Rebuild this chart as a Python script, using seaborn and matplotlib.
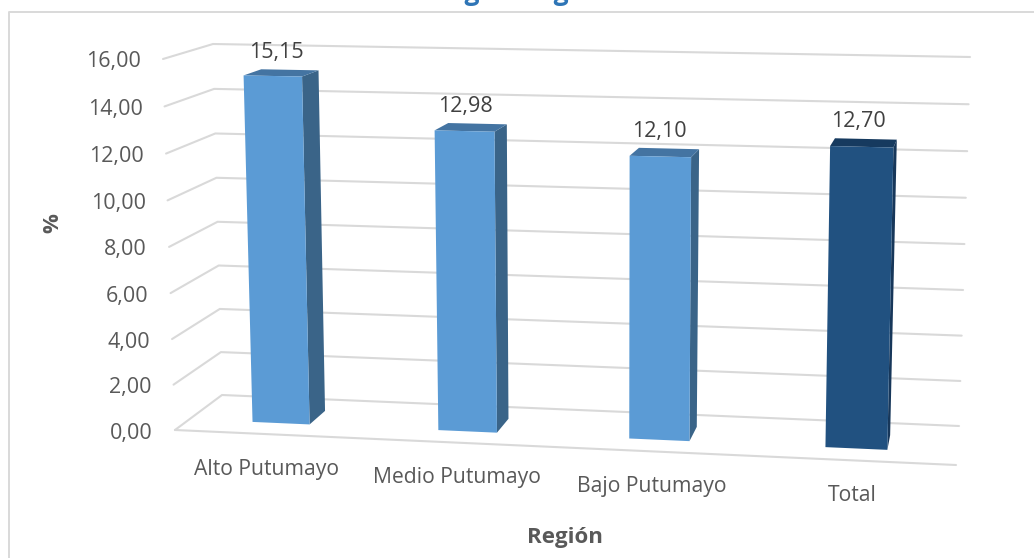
#!/usr/bin/env python

import numpy as np
import pandas as pd
import matplotlib
matplotlib.use('Agg')
import matplotlib.pyplot as plt
from matplotlib.patches import Polygon
from matplotlib.transforms import Transform
import seaborn as sns

regions = ["Alto Putumayo", "Medio Putumayo", "Bajo Putumayo", "Total"]
values = [15.15, 12.98, 12.10, 12.70]
yticks = [0, 2, 4, 6, 8, 10, 12, 14, 16]
front_colors = ["#5B9BD5", "#5B9BD5", "#5B9BD5", "#215180"]
side_colors = ["#3A6488", "#3A6488", "#3A6488", "#17375A"]
top_colors = ["#4474A2", "#4474A2", "#4474A2", "#163A5F"]

W, H = 1034, 558
GRID = "#D9D9D9"

# corners of the 3d box in image pixels (left/right, value 0/16)
front = {'lb': (175, 430), 'lt': (163, 59), 'rb': (956, 465), 'rt': (965, 73)}
back = {'lb': (222, 395), 'lt': (213, 44), 'rb': (959, 426), 'rt': (970, 57)}
UMIN, UMAX, VMAX = -0.5, 3.5, 16.0
D0, D1 = 0.31, 0.69


def homography(d):
    src = [(0, 0), (0, 1), (1, 0), (1, 1)]
    keys = ['lb', 'lt', 'rb', 'rt']
    A, b = [], []
    for (s, t), k in zip(src, keys):
        x = front[k][0] + d * (back[k][0] - front[k][0])
        y = front[k][1] + d * (back[k][1] - front[k][1])
        A.append([s, t, 1, 0, 0, 0, -s * x, -t * x])
        A.append([0, 0, 0, s, t, 1, -s * y, -t * y])
        b += [x, y]
    p = np.linalg.solve(np.array(A, float), np.array(b, float))
    return np.append(p, 1).reshape(3, 3)


def project(u, v, d):
    # data position + depth -> display pixels (y up)
    m = homography(d)
    s = (np.asarray(u, float) - UMIN) / (UMAX - UMIN)
    t = np.asarray(v, float) / VMAX
    w = m[2, 0] * s + m[2, 1] * t + 1
    x = (m[0, 0] * s + m[0, 1] * t + m[0, 2]) / w
    y = (m[1, 0] * s + m[1, 1] * t + m[1, 2]) / w
    return x, H - y


class Plane(Transform):
    input_dims = 2
    output_dims = 2

    def __init__(self, d):
        super().__init__()
        self.d = d

    def transform_non_affine(self, values):
        x, y = project(values[:, 0], values[:, 1], self.d)
        return np.column_stack([x, y])

    def transform(self, values):
        return self.transform_non_affine(np.asarray(values, float))

    def transform_path_non_affine(self, path):
        return path.__class__(self.transform_non_affine(path.vertices), path.codes)

    def inverted(self):
        raise NotImplementedError


sns.set_theme(style="white")
plt.rcParams['font.family'] = ['Open Sans', 'DejaVu Sans']

df = pd.DataFrame({"region": regions, "value": values})

fig = plt.figure(figsize=(W / 100, H / 100), dpi=100)
ax = fig.add_axes([0, 0, 1, 1])
sns.barplot(data=df, x="region", y="value", hue="region", palette=front_colors,
            width=0.31, legend=False, saturation=1, linewidth=0, ax=ax)
ax.set_xlim(0, W)
ax.set_ylim(0, H)
ax.axis('off')
fig.patch.set_facecolor('white')

# chart frame, the right and bottom side are cut off in the source
fig.add_artist(plt.Line2D([8.5 / W, 8.5 / W, 1], [0, 1 - 12 / H, 1 - 12 / H], color=GRID, lw=1.4))

# title is cut off by the top of the picture
fig.text(523 / W, 1 - 0.3 / H, "según Región", color="#2E75B6", fontsize=19, fontweight='bold',
         ha='center', va='baseline')

# grid on the side wall and the back wall
for v in yticks:
    x0, y0 = project(UMIN, v, 0)
    x1, y1 = project(UMIN, v, 1)
    x2, y2 = project(UMAX, v, 1)
    ax.plot([x0, x1, x2], [y0, y1, y2], transform=None, color=GRID, lw=1.5, zorder=1)
    ax.text(x0 - 22, y0 - 3, f"{v:.2f}".replace('.', ','), transform=None, ha='right', va='center',
            fontsize=15.5, color="#595959")
fx, fy = project([UMIN, UMAX], [0, 0], 0)
ax.plot(fx, fy, transform=None, color=GRID, lw=1.5, zorder=1)

# 3d look of the bars
for i, bar in enumerate(ax.patches):
    u0, u1 = bar.get_x(), bar.get_x() + bar.get_width()
    v = bar.get_height()
    bar.set_transform(Plane(D0))
    bar.set_zorder(4)
    side = [project(u1, 0, D0), project(u1, 0, D1), project(u1, v, D1), project(u1, v, D0)]
    top = [project(u0, v, D0), project(u0, v, D1), project(u1, v, D1), project(u1, v, D0)]
    ax.add_patch(Polygon(np.array(side), transform=None, fc=side_colors[i], ec='none', zorder=3))
    ax.add_patch(Polygon(np.array(top), transform=None, fc=top_colors[i], ec='none', zorder=3))

    # labels sit a bit closer together than the bars
    tx, _ = project((u0 + u1) / 2, v, D0)
    _, ty = project((u0 + u1) / 2, v, D1)
    ax.text(tx * 0.988 + 7, ty + 17, f"{v:.2f}".replace('.', ','), transform=None, ha='center', va='center',
            fontsize=15.5, color="#404040")

    lx, ly = project((u0 + u1) / 2, 0, 0)
    ax.text(lx - 1, ly - 35, regions[i], transform=None, ha='center', va='center',
            fontsize=15.2, color="#595959")

fig.text(565 / W, 1 - 537 / H, "Región", fontsize=16, fontweight='bold', color="#595959",
         ha='center', va='center')
fig.text(53 / W, 1 - 223 / H, "%", fontsize=16, fontweight='bold', color="#595959",
         ha='center', va='center', rotation=90)

plt.savefig("out.png", dpi=100)
